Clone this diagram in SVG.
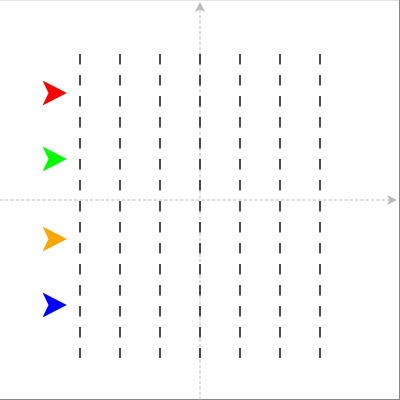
<svg xmlns="http://www.w3.org/2000/svg" width="400" height="400" viewBox="0 0 400 400">
<style>
.axis{stroke:#bbb;stroke-width:1;stroke-dasharray:3.2 2.1;fill:none}
.grid{stroke:#111;stroke-width:1.5;stroke-dasharray:10.5 10.5;fill:none}
</style>
<defs>
<marker id="ah" viewBox="0 0 10 10" refX="10" refY="5" markerWidth="10" markerHeight="10" markerUnits="userSpaceOnUse" orient="auto">
<path d="M0,0 L10,5 L0,10 L2.5,5 z" fill="#bbb"/>
</marker>
</defs>
<rect x="0" y="0" width="400" height="400" fill="#fff"/>
<g id="frame">
<line x1="0" y1="0.5" x2="400" y2="0.5" stroke="#e4e4e4" stroke-width="1"/>
<line x1="399.5" y1="0" x2="399.5" y2="400" stroke="#888" stroke-width="1"/>
<line x1="0" y1="399.5" x2="400" y2="399.5" stroke="#888" stroke-width="1"/>
</g>
<g id="axes">
<line class="axis" x1="0" y1="200" x2="397" y2="200" marker-end="url(#ah)"/>
<line class="axis" x1="200" y1="400" x2="200" y2="2" marker-end="url(#ah)"/>
</g>
<g id="connectors">
<line class="grid" x1="80" y1="54" x2="80" y2="358"/>
<line class="grid" x1="120" y1="54" x2="120" y2="358"/>
<line class="grid" x1="160" y1="54" x2="160" y2="358"/>
<line class="grid" x1="200" y1="54" x2="200" y2="358"/>
<line class="grid" x1="240" y1="54" x2="240" y2="358"/>
<line class="grid" x1="280" y1="54" x2="280" y2="358"/>
<line class="grid" x1="320" y1="54" x2="320" y2="358"/>
</g>
<g id="arrow-red"><path d="M42.5,80.5 L66.8,93 L42.5,105.5 L48.5,93 z" fill="#f00"/></g>
<g id="arrow-green"><path d="M42.5,146.5 L66.8,159 L42.5,171.5 L48.5,159 z" fill="#0f0"/></g>
<g id="arrow-orange"><path d="M42.5,226.5 L66.8,239 L42.5,251.5 L48.5,239 z" fill="#ffa500"/></g>
<g id="arrow-blue"><path d="M42.5,292.5 L66.8,305 L42.5,317.5 L48.5,305 z" fill="#00f"/></g>
</svg>
